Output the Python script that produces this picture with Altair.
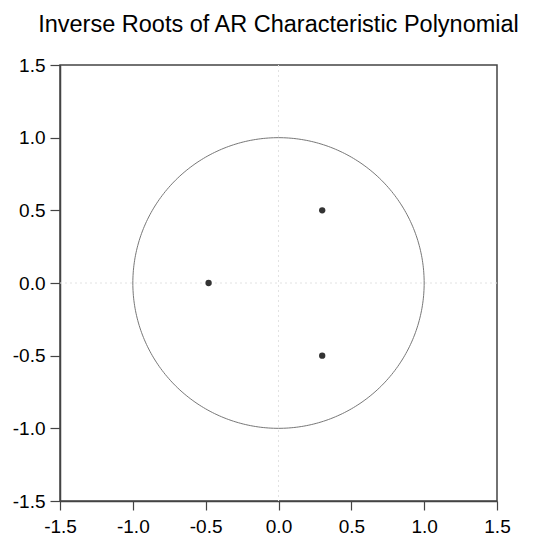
import altair as alt
import numpy as np
import pandas as pd

# Inverse roots (real, imaginary)
root_re = [0.30, 0.30, -0.48]
root_im = [0.50, -0.50, 0.00]

tick_vals = [-1.5, -1.0, -0.5, 0.0, 0.5, 1.0, 1.5]

# unit circle reference
theta = np.linspace(0, 2 * np.pi, 361)
circle = pd.DataFrame({"re": np.cos(theta), "im": np.sin(theta), "k": np.arange(361)})
roots = pd.DataFrame({"re": root_re, "im": root_im})
zero = pd.DataFrame({"v": [0.0]})

FONT = "Liberation Sans"
lab = "replace(format(datum.value, '.1f'), '\u2212', '-')"

xs = alt.Scale(domain=[-1.5, 1.5], nice=False, zero=False)
ys = alt.Scale(domain=[-1.5, 1.5], nice=False, zero=False)

xax = alt.Axis(values=tick_vals, labelExpr=lab, title=None, grid=False,
               labelFlush=False, labelOverlap=False,
               tickSize=9, labelPadding=7, labelFontSize=19, labelFont=FONT,
               labelColor="#000", domainColor="#444", tickColor="#444",
               domainWidth=1.5, tickWidth=1.2)
yax = alt.Axis(values=tick_vals, labelExpr=lab, title=None, grid=False,
               labelFlush=False, labelOverlap=False,
               tickSize=10, labelPadding=5, labelFontSize=19, labelFont=FONT,
               labelColor="#000", domainColor="#444", tickColor="#444",
               domainWidth=1.5, tickWidth=1.2)

vline = alt.Chart(zero).mark_rule(color="#e2e2e2", strokeDash=[2, 3], strokeWidth=1).encode(
    x=alt.X("v:Q", scale=xs, axis=xax))
hline = alt.Chart(zero).mark_rule(color="#e2e2e2", strokeDash=[2, 3], strokeWidth=1).encode(
    y=alt.Y("v:Q", scale=ys, axis=yax))

circ = alt.Chart(circle).mark_line(color="#777777", strokeWidth=1).encode(
    x=alt.X("re:Q", scale=xs, axis=xax),
    y=alt.Y("im:Q", scale=ys, axis=yax),
    order="k:Q")

pts = alt.Chart(roots).mark_circle(color="#333333", size=40, opacity=1).encode(
    x=alt.X("re:Q", scale=xs, axis=xax),
    y=alt.Y("im:Q", scale=ys, axis=yax))

chart = alt.layer(vline, hline, circ, pts).properties(
    width=437, height=436,
    autosize=alt.AutoSizeParams(type="none"),
    padding={"left": 52, "top": 57, "right": 29, "bottom": 34},
    title=alt.TitleParams("Inverse Roots of AR Characteristic Polynomial",
                          font=FONT, fontSize=23.5, fontWeight="normal", color="#000",
                          anchor="middle", offset=20),
).configure_view(stroke="#444", strokeWidth=1.5)

chart.save("out.html", embed_options={"renderer": "svg", "actions": False})
